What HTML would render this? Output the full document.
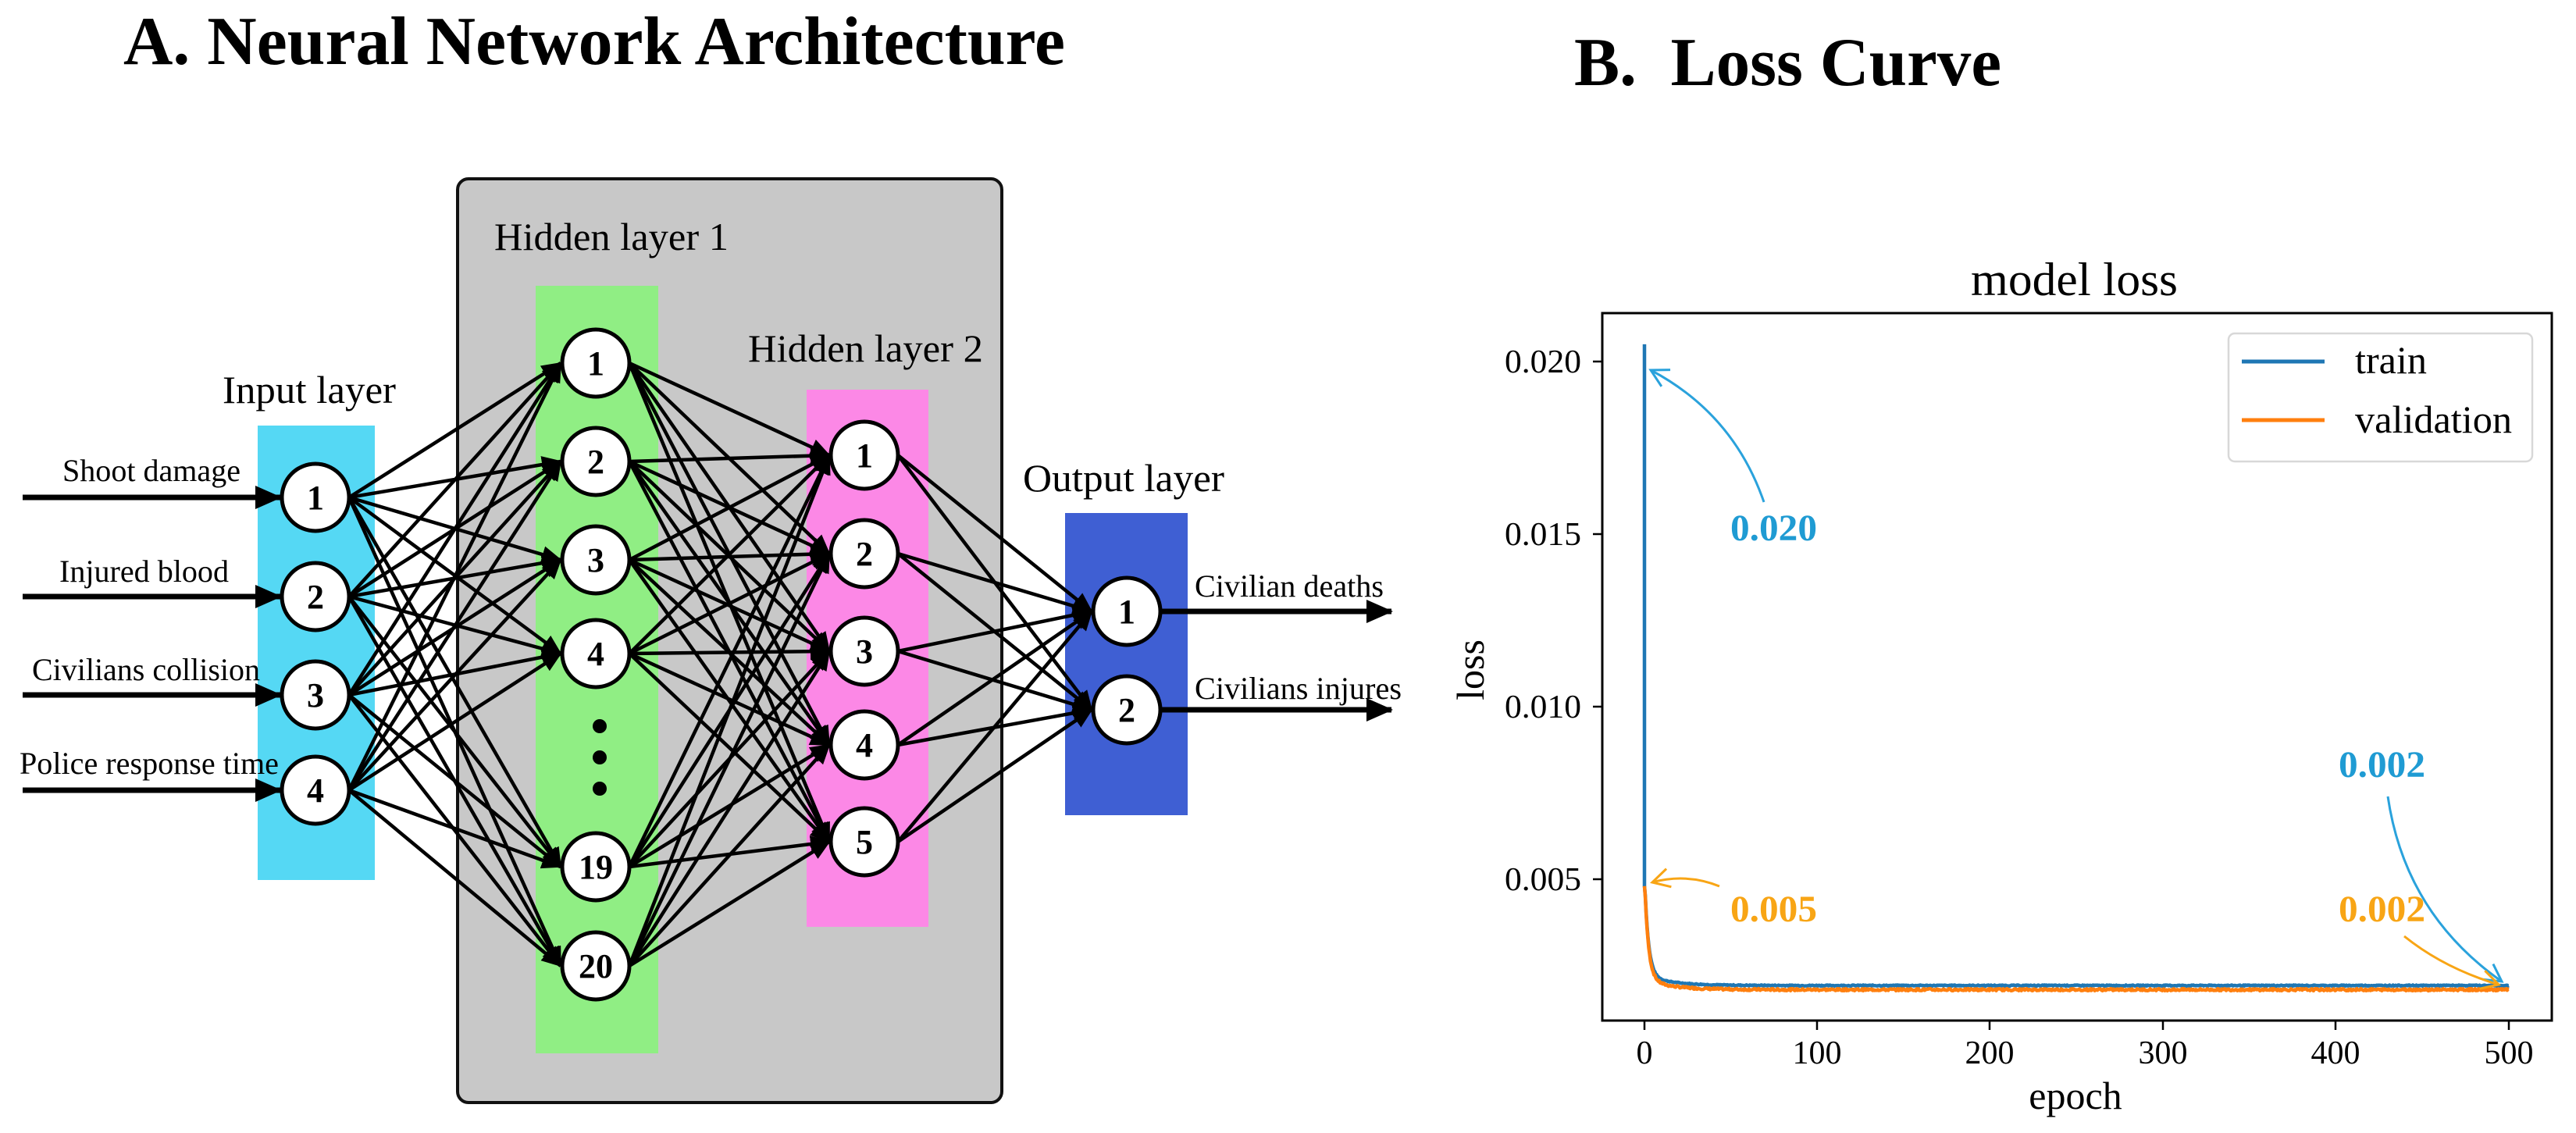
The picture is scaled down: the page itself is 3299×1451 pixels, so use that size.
<!DOCTYPE html>
<html><head><meta charset="utf-8"><style>
html,body{margin:0;padding:0;background:#fff;}
svg{display:block;}
text{font-family:"Liberation Serif",serif;}
</style></head><body>
<svg id="s" width="3299" height="1451" viewBox="0 0 3299 1451" xmlns="http://www.w3.org/2000/svg">
<defs>
<marker id="ah" markerUnits="userSpaceOnUse" markerWidth="26" markerHeight="22" refX="24" refY="11" orient="auto">
<path d="M0,0 L26,11 L0,22 z" fill="#000"/></marker>
<marker id="ahb" markerUnits="userSpaceOnUse" markerWidth="34" markerHeight="30" refX="32" refY="15" orient="auto">
<path d="M0,0 L34,15 L0,30 z" fill="#000"/></marker>
<marker id="oab" markerUnits="userSpaceOnUse" markerWidth="32" markerHeight="32" refX="28" refY="16" orient="auto">
<path d="M6,4 L28,16 L6,28" fill="none" stroke="#2aa2dc" stroke-width="3"/></marker>
<marker id="oao" markerUnits="userSpaceOnUse" markerWidth="32" markerHeight="32" refX="28" refY="16" orient="auto">
<path d="M6,4 L28,16 L6,28" fill="none" stroke="#f8a515" stroke-width="3"/></marker>
</defs>

<text x="158" y="82" font-size="88" font-weight="bold" textLength="1206" lengthAdjust="spacingAndGlyphs">A. Neural Network Architecture</text>
<text x="2016" y="109" font-size="88" font-weight="bold" textLength="547" lengthAdjust="spacingAndGlyphs" xml:space="preserve">B.  Loss Curve</text>

<rect x="586" y="229" width="697" height="1183" rx="14" fill="#c8c8c8" stroke="#111" stroke-width="4"/>
<rect x="330" y="545" width="150" height="582" fill="#55d8f4"/>
<rect x="686" y="366" width="157" height="983" fill="#90ee84"/>
<rect x="1033" y="499" width="156" height="688" fill="#fc88e6"/>
<rect x="1364" y="657" width="157" height="387" fill="#3f5fd3"/>

<text x="285" y="516" font-size="50" textLength="222" lengthAdjust="spacingAndGlyphs">Input layer</text>
<text x="633" y="320" font-size="50" textLength="300" lengthAdjust="spacingAndGlyphs">Hidden layer 1</text>
<text x="958" y="463" font-size="50" textLength="301" lengthAdjust="spacingAndGlyphs">Hidden layer 2</text>
<text x="1310" y="629" font-size="50" textLength="258" lengthAdjust="spacingAndGlyphs">Output layer</text>

<g font-size="40">
<text x="80" y="616" textLength="228" lengthAdjust="spacingAndGlyphs">Shoot damage</text>
<text x="76" y="745" textLength="217" lengthAdjust="spacingAndGlyphs">Injured blood</text>
<text x="41" y="871" textLength="292" lengthAdjust="spacingAndGlyphs">Civilians collision</text>
<text x="25" y="991" textLength="332" lengthAdjust="spacingAndGlyphs">Police response time</text>
<text x="1530" y="764" textLength="242" lengthAdjust="spacingAndGlyphs">Civilian deaths</text>
<text x="1530" y="895" textLength="265" lengthAdjust="spacingAndGlyphs">Civilians injures</text>
</g>

<g id="edges" stroke="#000" stroke-width="4.5" fill="none"></g>
<g id="nodes"></g>

<circle cx="768" cy="930" r="9" fill="#000"/>
<circle cx="768" cy="970" r="9" fill="#000"/>
<circle cx="768" cy="1010" r="9" fill="#000"/>

<g font-size="44" font-weight="bold" text-anchor="middle">
<text x="404" y="652">1</text><text x="404" y="779">2</text><text x="404" y="905">3</text><text x="404" y="1027">4</text>
<text x="763" y="480">1</text><text x="763" y="606">2</text><text x="763" y="732">3</text><text x="763" y="852">4</text><text x="763" y="1125">19</text><text x="763" y="1252">20</text>
<text x="1107" y="598">1</text><text x="1107" y="724">2</text><text x="1107" y="849">3</text><text x="1107" y="969">4</text><text x="1107" y="1093">5</text>
<text x="1443" y="798">1</text><text x="1443" y="924">2</text>
</g>

<text x="2524" y="378" font-size="60" textLength="265" lengthAdjust="spacingAndGlyphs">model loss</text>
<rect x="2052" y="401" width="1216" height="906" fill="none" stroke="#000" stroke-width="3"/>
<g stroke="#000" stroke-width="2.5">
<line x1="2040" y1="463" x2="2052" y2="463"/><line x1="2040" y1="684" x2="2052" y2="684"/>
<line x1="2040" y1="905" x2="2052" y2="905"/><line x1="2040" y1="1126" x2="2052" y2="1126"/>
<line x1="2106" y1="1307" x2="2106" y2="1319"/><line x1="2327" y1="1307" x2="2327" y2="1319"/>
<line x1="2548" y1="1307" x2="2548" y2="1319"/><line x1="2770" y1="1307" x2="2770" y2="1319"/>
<line x1="2991" y1="1307" x2="2991" y2="1319"/><line x1="3213" y1="1307" x2="3213" y2="1319"/>
</g>
<g font-size="42" text-anchor="end">
<text x="2025" y="477" textLength="98" lengthAdjust="spacingAndGlyphs">0.020</text>
<text x="2025" y="698" textLength="98" lengthAdjust="spacingAndGlyphs">0.015</text>
<text x="2025" y="919" textLength="98" lengthAdjust="spacingAndGlyphs">0.010</text>
<text x="2025" y="1140" textLength="98" lengthAdjust="spacingAndGlyphs">0.005</text>
</g>
<g font-size="42" text-anchor="middle">
<text x="2106" y="1362">0</text><text x="2327" y="1362">100</text><text x="2548" y="1362">200</text>
<text x="2770" y="1362">300</text><text x="2991" y="1362">400</text><text x="3213" y="1362">500</text>
<text x="2658" y="1420" font-size="50">epoch</text>
</g>
<text x="0" y="0" font-size="50" text-anchor="middle" transform="translate(1900,858) rotate(-90)">loss</text>

<g id="curves" fill="none" stroke-width="4.5" stroke-linejoin="round"></g>

<rect x="2854" y="427" width="389" height="164" rx="8" fill="#fff" stroke="#d8d8d8" stroke-width="2.5"/>
<line x1="2871" y1="463" x2="2977" y2="463" stroke="#1f77b4" stroke-width="5"/>
<line x1="2871" y1="538" x2="2977" y2="538" stroke="#ff7f0e" stroke-width="5"/>
<text x="3016" y="478" font-size="50" textLength="92" lengthAdjust="spacingAndGlyphs">train</text>
<text x="3016" y="554" font-size="50" textLength="201" lengthAdjust="spacingAndGlyphs">validation</text>

<g font-size="48" font-weight="bold">
<text x="2216" y="692" fill="#1f9bd3" textLength="111" lengthAdjust="spacingAndGlyphs">0.020</text>
<text x="2216" y="1180" fill="#f8a515" textLength="111" lengthAdjust="spacingAndGlyphs">0.005</text>
<text x="2995" y="995" fill="#1f9bd3" textLength="111" lengthAdjust="spacingAndGlyphs">0.002</text>
<text x="2995" y="1180" fill="#f8a515" textLength="111" lengthAdjust="spacingAndGlyphs">0.002</text>
</g>
<g fill="none" stroke-width="3">
<path d="M2259,643 Q2220,530 2114,474" stroke="#2aa2dc" marker-end="url(#oab)"/>
<path d="M2202,1135 Q2160,1118 2116,1130" stroke="#f8a515" marker-end="url(#oao)"/>
<path d="M3058,1020 Q3080,1170 3204,1257" stroke="#2aa2dc" marker-end="url(#oab)"/>
<path d="M3079,1199 Q3130,1240 3200,1261" stroke="#f8a515" marker-end="url(#oao)"/>
</g>
</svg>
<script>
(function(){
var NS="http://www.w3.org/2000/svg";
function el(t,a,p){var e=document.createElementNS(NS,t);for(var k in a)e.setAttribute(k,a[k]);p.appendChild(e);return e;}
var R=43;
var L0=[[404,637],[404,764],[404,890],[404,1012]];
var L1=[[763,465],[763,591],[763,717],[763,837],[763,1110],[763,1237]];
var L2=[[1107,583],[1107,709],[1107,834],[1107,954],[1107,1078]];
var L3=[[1443,783],[1443,909]];
var E=document.getElementById('edges');
function conn(A,B){A.forEach(function(a){B.forEach(function(b){
 el('line',{x1:a[0]+R,y1:a[1],x2:b[0]-R-2,y2:b[1],'marker-end':'url(#ah)'},E);});});}
conn(L0,L1);conn(L1,L2);conn(L2,L3);
L0.forEach(function(a){el('line',{x1:29,y1:a[1],x2:a[0]-R-2,y2:a[1],'stroke-width':7,'marker-end':'url(#ahb)'},E);});
L3.forEach(function(a){el('line',{x1:a[0]+R,y1:a[1],x2:1782,y2:a[1],'stroke-width':7,'marker-end':'url(#ahb)'},E);});
var N=document.getElementById('nodes');
[L0,L1,L2,L3].forEach(function(L){L.forEach(function(a){el('circle',{cx:a[0],cy:a[1],r:R,fill:'#fff',stroke:'#000','stroke-width':5},N);});});
var C=document.getElementById('curves');
function X(e){return 2106+e*2.214;}
function Y(v){return 463+(0.020-v)/0.005*221;}
var seed=7;function rnd(){seed=(seed*9301+49297)%233280;return seed/233280;}
var dt="M"+X(0)+","+Y(0.0205)+" L"+X(0)+","+Y(0.0048);
var dv="M"+X(0)+","+Y(0.0048);
for(var e=0.5;e<=500;e+=0.5){
 var t=0.00192+0.0029*Math.exp(-e/2.2)+0.0003*Math.exp(-e/15)+(rnd()-0.5)*0.00003;
 var v=0.00180+0.0030*Math.exp(-e/2.2)+0.0003*Math.exp(-e/15)+(rnd()-0.5)*0.00006;
 dt+=" L"+X(e).toFixed(1)+","+Y(t).toFixed(1);
 dv+=" L"+X(e).toFixed(1)+","+Y(v).toFixed(1);
}
el('path',{d:dt,stroke:'#1f77b4'},C);
el('path',{d:dv,stroke:'#ff7f0e'},C);
})();
</script>
</body></html>
